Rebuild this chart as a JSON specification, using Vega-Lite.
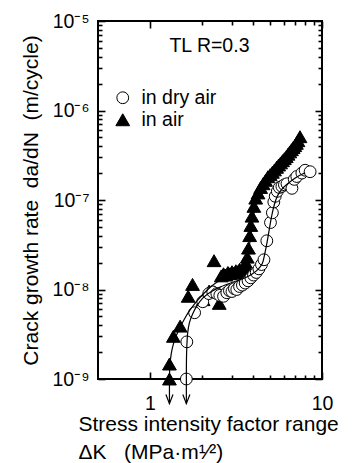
{
  "$schema": "https://vega.github.io/schema/vega-lite/v6.json",
  "width": 224,
  "height": 358,
  "autosize": "none",
  "padding": {"left": 98, "top": 21, "right": 34, "bottom": 84},
  "background": "white",
  "config": {"view": {"stroke": "black", "strokeWidth": 2}, "font": "Liberation Sans"},
  "datasets": {
    "points": [
      {"series": "in air", "K": 1.30, "r": 1.0e-9},
      {"series": "in air", "K": 1.30, "r": 1.47e-9},
      {"series": "in air", "K": 1.37, "r": 3.0e-9},
      {"series": "in air", "K": 1.50, "r": 3.9e-9},
      {"series": "in air", "K": 1.67, "r": 8.4e-9},
      {"series": "in air", "K": 1.77, "r": 1.14e-8},
      {"series": "in air", "K": 2.04, "r": 7.7e-9},
      {"series": "in air", "K": 2.21, "r": 9.6e-9},
      {"series": "in air", "K": 2.36, "r": 2.1e-8},
      {"series": "in air", "K": 2.53, "r": 7.0e-9},
      {"series": "in air", "K": 2.60, "r": 1.42e-8},
      {"series": "in air", "K": 2.68, "r": 1.50e-8},
      {"series": "in air", "K": 2.76, "r": 1.45e-8},
      {"series": "in air", "K": 2.84, "r": 1.55e-8},
      {"series": "in air", "K": 2.92, "r": 1.50e-8},
      {"series": "in air", "K": 3.00, "r": 1.58e-8},
      {"series": "in air", "K": 3.08, "r": 1.52e-8},
      {"series": "in air", "K": 3.16, "r": 1.62e-8},
      {"series": "in air", "K": 3.24, "r": 1.58e-8},
      {"series": "in air", "K": 3.32, "r": 1.68e-8},
      {"series": "in air", "K": 3.40, "r": 1.62e-8},
      {"series": "in air", "K": 3.48, "r": 1.75e-8},
      {"series": "in air", "K": 3.56, "r": 1.80e-8},
      {"series": "in air", "K": 3.63, "r": 1.95e-8},
      {"series": "in air", "K": 3.68, "r": 2.3e-8},
      {"series": "in air", "K": 3.74, "r": 2.9e-8},
      {"series": "in air", "K": 3.80, "r": 4.0e-8},
      {"series": "in air", "K": 3.86, "r": 5.2e-8},
      {"series": "in air", "K": 3.92, "r": 6.6e-8},
      {"series": "in air", "K": 4.02, "r": 8.5e-8},
      {"series": "in air", "K": 4.12, "r": 1.05e-7},
      {"series": "in air", "K": 4.25, "r": 1.2e-7},
      {"series": "in air", "K": 4.40, "r": 1.38e-7},
      {"series": "in air", "K": 4.55, "r": 1.52e-7},
      {"series": "in air", "K": 4.70, "r": 1.66e-7},
      {"series": "in air", "K": 4.85, "r": 1.82e-7},
      {"series": "in air", "K": 5.00, "r": 1.92e-7},
      {"series": "in air", "K": 5.15, "r": 2.04e-7},
      {"series": "in air", "K": 5.30, "r": 2.17e-7},
      {"series": "in air", "K": 5.45, "r": 2.32e-7},
      {"series": "in air", "K": 5.60, "r": 2.46e-7},
      {"series": "in air", "K": 5.75, "r": 2.6e-7},
      {"series": "in air", "K": 5.90, "r": 2.75e-7},
      {"series": "in air", "K": 6.05, "r": 2.9e-7},
      {"series": "in air", "K": 6.20, "r": 3.05e-7},
      {"series": "in air", "K": 6.35, "r": 3.25e-7},
      {"series": "in air", "K": 6.50, "r": 3.45e-7},
      {"series": "in air", "K": 6.65, "r": 3.65e-7},
      {"series": "in air", "K": 6.80, "r": 3.85e-7},
      {"series": "in air", "K": 6.95, "r": 4.05e-7},
      {"series": "in air", "K": 7.10, "r": 4.3e-7},
      {"series": "in air", "K": 7.25, "r": 4.6e-7},
      {"series": "in air", "K": 7.45, "r": 5.1e-7},
      {"series": "in dry air", "K": 1.63, "r": 1.0e-9},
      {"series": "in dry air", "K": 1.64, "r": 2.6e-9},
      {"series": "in dry air", "K": 1.82, "r": 5.5e-9},
      {"series": "in dry air", "K": 2.03, "r": 7.3e-9},
      {"series": "in dry air", "K": 2.20, "r": 9.0e-9},
      {"series": "in dry air", "K": 2.32, "r": 9.4e-9},
      {"series": "in dry air", "K": 2.45, "r": 9.0e-9},
      {"series": "in dry air", "K": 2.55, "r": 8.6e-9},
      {"series": "in dry air", "K": 2.68, "r": 8.4e-9},
      {"series": "in dry air", "K": 2.80, "r": 9.2e-9},
      {"series": "in dry air", "K": 2.90, "r": 9.7e-9},
      {"series": "in dry air", "K": 3.00, "r": 9.5e-9},
      {"series": "in dry air", "K": 3.10, "r": 1.02e-8},
      {"series": "in dry air", "K": 3.20, "r": 1.0e-8},
      {"series": "in dry air", "K": 3.32, "r": 1.08e-8},
      {"series": "in dry air", "K": 3.45, "r": 1.12e-8},
      {"series": "in dry air", "K": 3.58, "r": 1.18e-8},
      {"series": "in dry air", "K": 3.72, "r": 1.25e-8},
      {"series": "in dry air", "K": 3.86, "r": 1.35e-8},
      {"series": "in dry air", "K": 4.00, "r": 1.45e-8},
      {"series": "in dry air", "K": 4.15, "r": 1.55e-8},
      {"series": "in dry air", "K": 4.30, "r": 1.7e-8},
      {"series": "in dry air", "K": 4.45, "r": 1.9e-8},
      {"series": "in dry air", "K": 4.60, "r": 2.15e-8},
      {"series": "in dry air", "K": 4.78, "r": 3.5e-8},
      {"series": "in dry air", "K": 5.02, "r": 5.6e-8},
      {"series": "in dry air", "K": 5.15, "r": 7.2e-8},
      {"series": "in dry air", "K": 5.25, "r": 9.5e-8},
      {"series": "in dry air", "K": 5.35, "r": 1.1e-7},
      {"series": "in dry air", "K": 5.50, "r": 1.25e-7},
      {"series": "in dry air", "K": 5.65, "r": 1.38e-7},
      {"series": "in dry air", "K": 5.85, "r": 1.42e-7},
      {"series": "in dry air", "K": 6.05, "r": 1.48e-7},
      {"series": "in dry air", "K": 6.26, "r": 1.52e-7},
      {"series": "in dry air", "K": 6.69, "r": 1.35e-7},
      {"series": "in dry air", "K": 6.90, "r": 1.7e-7},
      {"series": "in dry air", "K": 7.14, "r": 1.83e-7},
      {"series": "in dry air", "K": 7.64, "r": 2.0e-7},
      {"series": "in dry air", "K": 7.98, "r": 2.15e-7},
      {"series": "in dry air", "K": 8.53, "r": 2.07e-7}
    ],
    "curves": [
      {"series": "in air", "K": 1.30, "r": 1.0e-9},
      {"series": "in air", "K": 1.305, "r": 1.3e-9},
      {"series": "in air", "K": 1.32, "r": 1.7e-9},
      {"series": "in air", "K": 1.35, "r": 2.2e-9},
      {"series": "in air", "K": 1.40, "r": 2.8e-9},
      {"series": "in air", "K": 1.48, "r": 3.6e-9},
      {"series": "in air", "K": 1.58, "r": 4.6e-9},
      {"series": "in air", "K": 1.70, "r": 5.8e-9},
      {"series": "in air", "K": 1.85, "r": 7.2e-9},
      {"series": "in air", "K": 2.03, "r": 8.8e-9},
      {"series": "in air", "K": 2.27, "r": 1.08e-8},
      {"series": "in air", "K": 2.55, "r": 1.27e-8},
      {"series": "in air", "K": 2.85, "r": 1.42e-8},
      {"series": "in air", "K": 3.20, "r": 1.57e-8},
      {"series": "in air", "K": 3.45, "r": 1.72e-8},
      {"series": "in air", "K": 3.60, "r": 1.95e-8},
      {"series": "in air", "K": 3.72, "r": 2.5e-8},
      {"series": "in air", "K": 3.82, "r": 3.5e-8},
      {"series": "in air", "K": 3.92, "r": 5.0e-8},
      {"series": "in air", "K": 4.03, "r": 7.2e-8},
      {"series": "in air", "K": 4.15, "r": 9.5e-8},
      {"series": "in air", "K": 4.35, "r": 1.25e-7},
      {"series": "in air", "K": 4.70, "r": 1.6e-7},
      {"series": "in air", "K": 5.20, "r": 2.05e-7},
      {"series": "in air", "K": 5.80, "r": 2.6e-7},
      {"series": "in air", "K": 6.50, "r": 3.4e-7},
      {"series": "in air", "K": 7.00, "r": 4.0e-7},
      {"series": "in air", "K": 7.45, "r": 4.9e-7},
      {"series": "in dry air", "K": 1.63, "r": 1.0e-9},
      {"series": "in dry air", "K": 1.632, "r": 1.6e-9},
      {"series": "in dry air", "K": 1.64, "r": 2.3e-9},
      {"series": "in dry air", "K": 1.66, "r": 3.3e-9},
      {"series": "in dry air", "K": 1.70, "r": 4.3e-9},
      {"series": "in dry air", "K": 1.77, "r": 5.3e-9},
      {"series": "in dry air", "K": 1.88, "r": 6.6e-9},
      {"series": "in dry air", "K": 2.03, "r": 8.0e-9},
      {"series": "in dry air", "K": 2.20, "r": 9.1e-9},
      {"series": "in dry air", "K": 2.58, "r": 1.07e-8},
      {"series": "in dry air", "K": 3.09, "r": 1.22e-8},
      {"series": "in dry air", "K": 3.60, "r": 1.36e-8},
      {"series": "in dry air", "K": 3.95, "r": 1.5e-8},
      {"series": "in dry air", "K": 4.25, "r": 1.68e-8},
      {"series": "in dry air", "K": 4.50, "r": 1.95e-8},
      {"series": "in dry air", "K": 4.65, "r": 2.5e-8},
      {"series": "in dry air", "K": 4.80, "r": 3.4e-8},
      {"series": "in dry air", "K": 4.95, "r": 4.8e-8},
      {"series": "in dry air", "K": 5.10, "r": 6.6e-8},
      {"series": "in dry air", "K": 5.28, "r": 8.8e-8},
      {"series": "in dry air", "K": 5.50, "r": 1.1e-7},
      {"series": "in dry air", "K": 5.80, "r": 1.3e-7},
      {"series": "in dry air", "K": 6.26, "r": 1.5e-7},
      {"series": "in dry air", "K": 7.10, "r": 1.8e-7},
      {"series": "in dry air", "K": 7.98, "r": 2.02e-7}
    ],
    "arrows": [
      {"series": "in air", "K": 1.30},
      {"series": "in dry air", "K": 1.63}
    ]
  },
  "layer": [
    {
      "layer": [
        {
          "data": {"name": "points"},
          "mark": {"type": "point", "filled": true, "strokeWidth": 1, "opacity": 1},
          "encoding": {
            "x": {
              "field": "K", "type": "quantitative",
              "scale": {"type": "log", "domain": [0.5, 10], "nice": false},
              "axis": {
                "orient": "bottom",
                "values": [1, 2, 3, 4, 5, 6, 7, 8, 9, 10],
                "labelExpr": "datum.value == 1 ? '1' : (datum.value == 10 ? '10' : '')",
                "labelFont": "Liberation Sans", "labelFontSize": 19.5, "labelColor": "#000000",
                "labelPadding": 15, "labelOverlap": false, "labelFlush": false, "labelBaseline": "top",
                "ticks": false,
                "grid": true, "gridColor": "#000000", "gridOpacity": 1, "gridWidth": 1.6,
                "gridDash": {"condition": {"test": "datum.value == 1 || datum.value == 10", "value": [7, 2000]}, "value": [4, 2000]},
                "domain": false,
                "title": ["Stress intensity factor range", "ΔK\u00a0\u00a0\u00a0(MPa·m¹⁄²)"],
                "titleFont": "Liberation Sans", "titleFontSize": 21, "titleFontWeight": "normal", "titleColor": "#000000",
                "titleAlign": "left", "titleX": -20, "titleY": 34, "titleBaseline": "top", "titleLineHeight": 28
              }
            },
            "y": {
              "field": "r", "type": "quantitative",
              "scale": {"type": "log", "domain": [1e-9, 1e-5], "nice": false},
              "axis": {
                "orient": "left",
                "values": [1e-9, 2e-9, 3e-9, 4e-9, 5e-9, 6e-9, 7e-9, 8e-9, 9e-9, 1e-8, 2e-8, 3e-8, 4e-8, 5e-8, 6e-8, 7e-8, 8e-8, 9e-8, 1e-7, 2e-7, 3e-7, 4e-7, 5e-7, 6e-7, 7e-7, 8e-7, 9e-7, 1e-6, 2e-6, 3e-6, 4e-6, 5e-6, 6e-6, 7e-6, 8e-6, 9e-6, 1e-5],
                "labelExpr": "abs(log(datum.value)/LN10 - round(log(datum.value)/LN10)) < 0.001 ? ['10⁻⁹','10⁻⁸','10⁻⁷','10⁻⁶','10⁻⁵'][round(log(datum.value)/LN10) + 9] : ''",
                "labelFont": "Liberation Sans", "labelFontSize": 19.5, "labelColor": "#000000",
                "labelPadding": 9, "labelOverlap": false, "labelFlush": false,
                "ticks": false,
                "grid": true, "gridColor": "#000000", "gridOpacity": 1, "gridWidth": 1.6,
                "gridDash": {"condition": {"test": "abs(log(datum.value)/LN10 - round(log(datum.value)/LN10)) < 0.001", "value": [7, 2000]}, "value": [4, 2000]},
                "domain": false,
                "title": "Crack growth rate\u00a0 da/dN\u00a0 (m/cycle)",
                "titleFont": "Liberation Sans", "titleFontSize": 21, "titleFontWeight": "normal", "titleColor": "#000000",
                "titleX": -61, "titleY": 179, "titleAlign": "center", "titleBaseline": "alphabetic", "titleAngle": -90
              }
            },
            "shape": {
              "field": "series", "type": "nominal",
              "scale": {"domain": ["in dry air", "in air"], "range": ["circle", "triangle-up"]},
              "legend": {"orient": "none", "legendX": 15, "legendY": 67, "title": null, "direction": "vertical",
                "labelFont": "Liberation Sans", "labelFontSize": 19.5, "labelColor": "#000000",
                "symbolStrokeWidth": 1, "rowPadding": 1, "labelOffset": 9, "padding": 0, "symbolOffset": 0}
            },
            "fill": {
              "field": "series", "type": "nominal",
              "scale": {"domain": ["in dry air", "in air"], "range": ["white", "black"]},
              "legend": {"orient": "none", "legendX": 15, "legendY": 67, "title": null, "direction": "vertical",
                "labelFont": "Liberation Sans", "labelFontSize": 19.5, "labelColor": "#000000",
                "symbolStrokeWidth": 1, "rowPadding": 1, "labelOffset": 9, "padding": 0, "symbolOffset": 0}
            },
            "stroke": {
              "field": "series", "type": "nominal",
              "scale": {"domain": ["in dry air", "in air"], "range": ["black", "black"]},
              "legend": {"orient": "none", "legendX": 15, "legendY": 67, "title": null, "direction": "vertical",
                "labelFont": "Liberation Sans", "labelFontSize": 19.5, "labelColor": "#000000",
                "symbolStrokeWidth": 1, "rowPadding": 1, "labelOffset": 9, "padding": 0, "symbolOffset": 0}
            },
            "size": {
              "field": "series", "type": "nominal",
              "scale": {"domain": ["in dry air", "in air"], "range": [140, 190]},
              "legend": {"orient": "none", "legendX": 15, "legendY": 67, "title": null, "direction": "vertical",
                "labelFont": "Liberation Sans", "labelFontSize": 19.5, "labelColor": "#000000",
                "symbolStrokeWidth": 1, "rowPadding": 1, "labelOffset": 9, "padding": 0, "symbolOffset": 0}
            }
          }
        },
        {
          "data": {"name": "arrows"},
          "mark": {"type": "rule", "color": "black", "strokeWidth": 1.2},
          "encoding": {
            "x": {"field": "K", "type": "quantitative", "scale": {"type": "log", "domain": [0.5, 10], "nice": false}},
            "y": {"datum": 1e-9, "type": "quantitative", "scale": {"type": "log", "domain": [1e-9, 1e-5], "nice": false}},
            "y2": {"datum": 5.3e-10}
          }
        },
        {
          "data": {"name": "arrows"},
          "mark": {"type": "point", "shape": "M-1,-2.6L0,0L1,-2.6", "filled": false, "stroke": "black", "strokeWidth": 1.2, "size": 50, "opacity": 1},
          "encoding": {
            "x": {"field": "K", "type": "quantitative", "scale": {"type": "log", "domain": [0.5, 10], "nice": false}},
            "y": {"datum": 5.3e-10, "type": "quantitative", "scale": {"type": "log", "domain": [1e-9, 1e-5], "nice": false}}
          }
        },
        {
          "data": {"values": [{"note": "TL R=0.3"}]},
          "mark": {"type": "text", "font": "Liberation Sans", "fontSize": 19.5, "align": "center", "baseline": "middle", "color": "black"},
          "encoding": {
            "text": {"field": "note", "type": "nominal"},
            "x": {"datum": 2.22, "type": "quantitative", "scale": {"type": "log", "domain": [0.5, 10], "nice": false}},
            "y": {"datum": 5.2e-6, "type": "quantitative", "scale": {"type": "log", "domain": [1e-9, 1e-5], "nice": false}}
          }
        }
      ]
    },
    {
      "data": {"name": "curves"},
      "mark": {"type": "line", "color": "black", "strokeWidth": 1.2, "interpolate": "catmull-rom"},
      "encoding": {
        "x": {
          "field": "K", "type": "quantitative",
          "scale": {"type": "log", "domain": [0.5, 10], "nice": false},
          "axis": {
            "orient": "top",
            "values": [1, 2, 3, 4, 5, 6, 7, 8, 9, 10],
            "labels": false, "ticks": false,
            "grid": true, "gridColor": "#000000", "gridOpacity": 1, "gridWidth": 1.6,
            "gridDash": {"condition": {"test": "datum.value == 1 || datum.value == 10", "value": [7, 2000]}, "value": [4, 2000]},
            "domain": false, "title": null
          }
        },
        "y": {
          "field": "r", "type": "quantitative",
          "scale": {"type": "log", "domain": [1e-9, 1e-5], "nice": false},
          "axis": {
            "orient": "right",
            "values": [1e-9, 2e-9, 3e-9, 4e-9, 5e-9, 6e-9, 7e-9, 8e-9, 9e-9, 1e-8, 2e-8, 3e-8, 4e-8, 5e-8, 6e-8, 7e-8, 8e-8, 9e-8, 1e-7, 2e-7, 3e-7, 4e-7, 5e-7, 6e-7, 7e-7, 8e-7, 9e-7, 1e-6, 2e-6, 3e-6, 4e-6, 5e-6, 6e-6, 7e-6, 8e-6, 9e-6, 1e-5],
            "labels": false, "ticks": false,
            "grid": true, "gridColor": "#000000", "gridOpacity": 1, "gridWidth": 1.6,
            "gridDash": {"condition": {"test": "abs(log(datum.value)/LN10 - round(log(datum.value)/LN10)) < 0.001", "value": [7, 2000]}, "value": [4, 2000]},
            "domain": false, "title": null
          }
        },
        "detail": {"field": "series", "type": "nominal"},
        "order": {"field": "r", "type": "quantitative"}
      }
    }
  ],
  "resolve": {"axis": {"x": "independent", "y": "independent"}}
}
